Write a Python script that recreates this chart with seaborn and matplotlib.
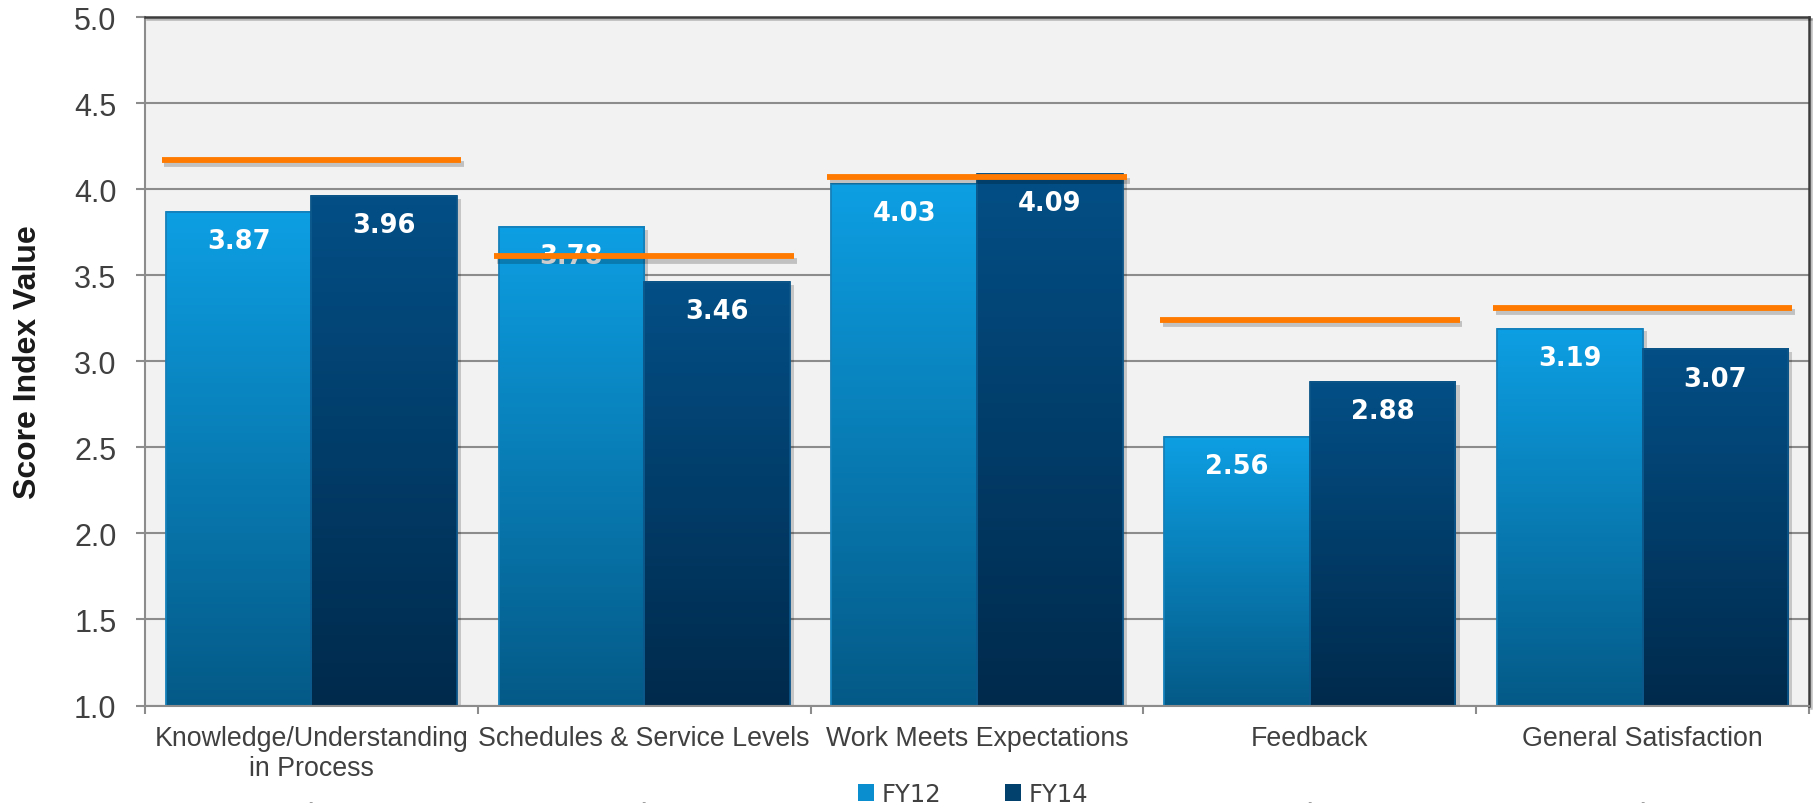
import numpy as np
import pandas as pd
import matplotlib
matplotlib.use("Agg")
import matplotlib.pyplot as plt
import matplotlib.patheffects as pe
import matplotlib.transforms as mtransforms
from matplotlib.patches import Rectangle
from matplotlib.colors import to_rgb
import seaborn as sns

# ---- data ----
categories = ["Knowledge/Understanding\nin Process", "Schedules & Service Levels",
              "Work Meets Expectations", "Feedback", "General Satisfaction"]
years = ["FY12", "FY14"]
fy12 = [3.87, 3.78, 4.03, 2.56, 3.19]
fy14 = [3.96, 3.46, 4.09, 2.88, 3.07]
benchmark = [4.17, 3.61, 4.07, 3.24, 3.31]
y_ticks = [1.0, 1.5, 2.0, 2.5, 3.0, 3.5, 4.0, 4.5, 5.0]

# ---- style ----
sns.set_style("white")
plt.rcParams["font.family"] = ["Liberation Sans", "DejaVu Sans"]

grad_colors = {
    "FY12": ("#0D9FE3", "#045A87", "#1580BA"),
    "FY14": ("#034F86", "#002A4C", "#0B5588"),
}
legend_colors = ["#0A8ECF", "#02406E"]
grid_gray = "#8C8C8C"
frame_dark = "#3C3C3C"
text_gray = "#404040"
orange = "#FF7A00"

df = pd.DataFrame({
    "Category": categories * 2,
    "Score": fy12 + fy14,
    "Year": [years[0]] * len(fy12) + [years[1]] * len(fy14),
})

fig = plt.figure(figsize=(18.14, 8.04), dpi=100)
ax = fig.add_axes([145 / 1814, 1 - 706.5 / 804, 1664 / 1814, (706.5 - 18.3) / 804])
ax.set_facecolor("#F2F2F2")

sns.barplot(data=df, x="Category", y="Score", hue="Year", order=categories,
            hue_order=years, palette=legend_colors, saturation=1, width=0.875,
            linewidth=0, ax=ax, zorder=2)

ax.set_xlim(-0.5, len(categories) - 0.5)
ax.set_ylim(y_ticks[0], y_ticks[-1])

# vertical gradient fill for each bar, with a soft drop shadow
for cont, year in zip(ax.containers, years):
    top_c, bot_c, edge_c = grad_colors[year]
    top = np.array(to_rgb(top_c))
    bot = np.array(to_rgb(bot_c))
    t = np.linspace(0, 1, 256)[:, None, None]
    grad = top * (1 - t) + bot * t
    for rect in cont:
        x0, w, h = rect.get_x(), rect.get_width(), rect.get_height()
        rect.set_path_effects([pe.SimplePatchShadow(offset=(3, -2), shadow_rgbFace="k", alpha=0.18),
                               pe.Normal()])
        ax.imshow(grad, extent=[x0, x0 + w, y_ticks[0], h], origin="upper",
                  aspect="auto", interpolation="bicubic", zorder=2.1)
        ax.add_patch(Rectangle((x0, 0), w, h, fill=False, edgecolor=edge_c,
                               linewidth=1.3, zorder=2.2))

ax.set_xlim(-0.5, len(categories) - 0.5)
ax.set_ylim(y_ticks[0], y_ticks[-1])

# value labels just inside the top of each bar
for cont, values in zip(ax.containers, [fy12, fy14]):
    for rect, v in zip(cont, values):
        ax.annotate(f"{v:.2f}", xy=(rect.get_x() + rect.get_width() / 2, v),
                    xytext=(0, -21), textcoords="offset points", ha="center",
                    va="center", color="white", fontsize=18.5, fontweight="bold",
                    family="DejaVu Sans", zorder=4)

# benchmark markers across each category
for i, b in enumerate(benchmark):
    ax.plot([i - 0.45, i + 0.45], [b, b], color=orange, linewidth=4.2,
            solid_capstyle="butt", zorder=6,
            path_effects=[pe.SimpleLineShadow(offset=(2, -3), shadow_color="k", alpha=0.2),
                          pe.Normal()])

# axes, grid, ticks
ax.set_axisbelow(True)
ax.set_yticks(y_ticks)
ax.set_yticklabels([f"{v:.1f}" for v in y_ticks])
ax.yaxis.grid(True, color=grid_gray, linewidth=1.5)
ax.xaxis.grid(False)

ax.set_xticks(np.arange(-0.5, len(categories), 1.0))
ax.set_xticklabels([])
ax.set_xticks(np.arange(len(categories)), minor=True)
ax.set_xticklabels(categories, minor=True)
ax.tick_params(axis="x", which="major", direction="out", length=6, width=1.5,
               color=grid_gray, bottom=True)
ax.tick_params(axis="x", which="minor", length=0, pad=14, labelsize=19.3,
               labelcolor=text_gray)
ax.tick_params(axis="y", direction="out", length=6.5, width=1.5, color=grid_gray,
               pad=14, labelsize=22, labelcolor=text_gray, left=True)

for side in ["left", "bottom"]:
    ax.spines[side].set_color(grid_gray)
    ax.spines[side].set_linewidth(1.5)
for side in ["top", "right"]:
    ax.spines[side].set_color(frame_dark)
    ax.spines[side].set_linewidth(1.8)
    ax.spines[side].set_path_effects([pe.SimpleLineShadow(offset=(1.5, -1.5), alpha=0.25),
                                      pe.Normal()])

ax.set_xlabel("")
ax.set_ylabel("Score Index Value", fontsize=23, fontweight="bold", color="#1A1A1A")
ax.yaxis.set_label_coords(-0.061, 0.5)

# small markers beneath each category (drawn under the legend box)
caret_tf = mtransforms.blended_transform_factory(ax.transData, fig.transFigure)
for i in range(len(categories)):
    ax.text(i, -0.021, "^", transform=caret_tf, ha="center", va="baseline",
            fontsize=19, color=text_gray, zorder=3, clip_on=False)

sns.move_legend(ax, "center", bbox_to_anchor=(0.5365, 0.011),
                bbox_transform=fig.transFigure, ncol=2, frameon=True, title=None,
                fontsize=17.5, handlelength=0.67, handleheight=0.67,
                handletextpad=0.33, columnspacing=2.6, borderpad=0.3)
leg = ax.get_legend()
leg.get_frame().set_facecolor("white")
leg.get_frame().set_edgecolor("white")
leg.get_frame().set_alpha(1)
leg.set_zorder(10)
for txt in leg.get_texts():
    txt.set_family("DejaVu Sans")
    txt.set_color(text_gray)

fig.savefig("out.png", dpi=100)
